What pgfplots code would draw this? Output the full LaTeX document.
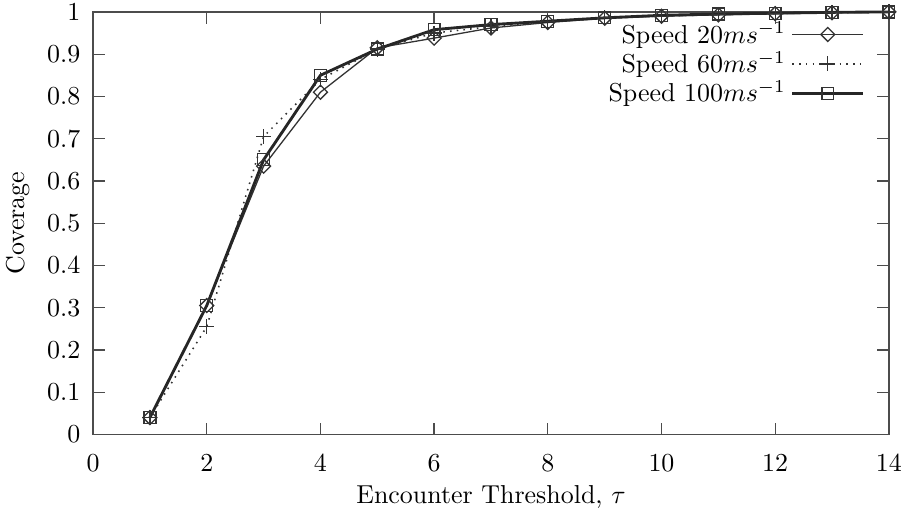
\documentclass[border=0pt]{standalone}
\usepackage{pgfplots}
\pgfplotsset{compat=1.18}
\pgfplotsset{longleg/.style={legend image code/.code={\draw[mark repeat=2,mark phase=2] plot coordinates {(0cm,0cm) (0.48cm,0cm) (0.96cm,0cm)};}}}
\begin{document}
\begin{tikzpicture}
\begin{axis}[
  scale only axis,
  width=307pt, height=163pt,
  xmin=0, xmax=14, ymin=0, ymax=1,
  xtick={0,2,...,14},
  ytick={0,0.1,...,1.0},
  yticklabel style={/pgf/number format/fixed, xshift=-1.4pt},
  xticklabel style={yshift=-4.2pt},
  tick align=inside,
  major tick length=4.5pt,
  axis line style={black!70, line width=0.5pt},
  every tick/.style={black!70, line width=0.5pt},
  xlabel={Encounter Threshold, $\tau$},
  ylabel={Coverage},
  xlabel style={yshift=1.5pt},
  legend style={draw=none, fill=none, at={(0.98,1.002)}, anchor=north east, row sep=-2.3pt, font=\normalsize},
  legend cell align=right,
  legend plot pos=right,
  clip=false,
]
\addplot[longleg, black!80, line width=0.5pt, mark=square, mark size=1.9pt, mark options={solid, rotate=45, black!80, line width=0.5pt}]
  coordinates {(1,0.04) (2,0.305) (3,0.635) (4,0.81) (5,0.915) (6,0.938) (7,0.962) (8,0.975) (9,0.985) (10,0.99) (11,0.993) (12,0.996) (13,0.998) (14,1.0)};
\addlegendentry{Speed $20ms^{-1}$}
\addplot[longleg, black!80, line width=0.6pt, dotted, mark=+, mark size=2.9pt, mark options={solid, black!80, line width=0.5pt}]
  coordinates {(1,0.04) (2,0.255) (3,0.705) (4,0.84) (5,0.912) (6,0.95) (7,0.965) (8,0.977) (9,0.986) (10,0.99) (11,0.994) (12,0.996) (13,0.998) (14,1.0)};
\addlegendentry{Speed $60ms^{-1}$}
\addplot[longleg, black!85, line width=1.1pt, mark=square, mark size=2.3pt, mark options={solid, black!80, line width=0.5pt}]
  coordinates {(1,0.04) (2,0.305) (3,0.65) (4,0.85) (5,0.912) (6,0.958) (7,0.97) (8,0.978) (9,0.986) (10,0.992) (11,0.995) (12,0.997) (13,0.999) (14,1.0)};
\addlegendentry{Speed $100ms^{-1}$}
\end{axis}
\pgfresetboundingbox
\path (current axis.south west) ++(-35.9pt,-30.9pt) coordinate (bbA);
\path (current axis.north east) ++(9.7pt,4.6pt) coordinate (bbB);
\useasboundingbox (bbA) rectangle (bbB);
\end{tikzpicture}
\end{document}
